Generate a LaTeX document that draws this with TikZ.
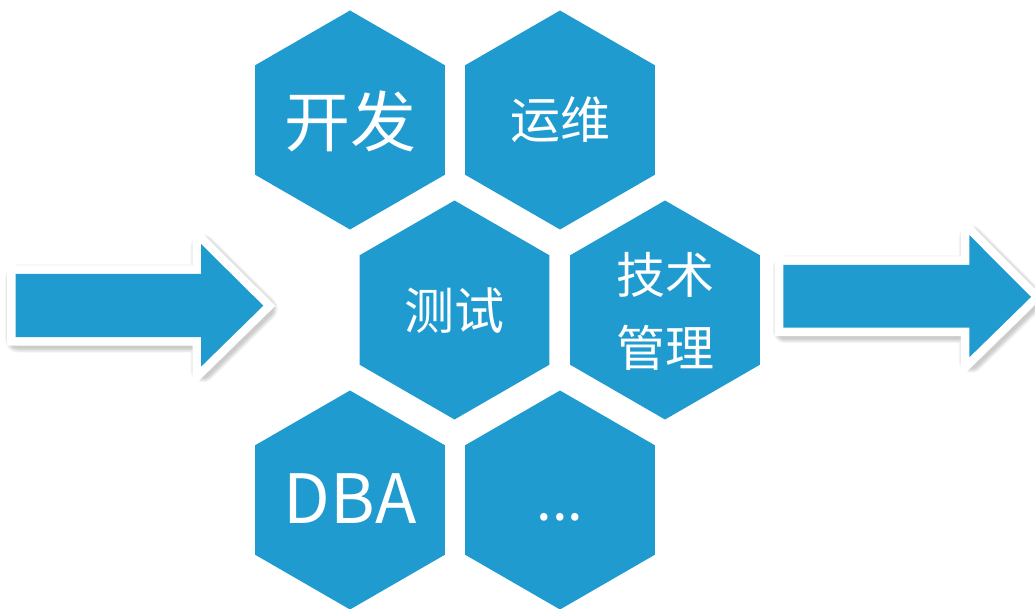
\documentclass[tikz,border=0pt]{standalone}
\usepackage{fontspec}
\setmainfont{Noto Sans CJK SC}
\definecolor{hexblue}{RGB}{32,155,207}
\tikzset{
  hexfill/.style={fill=hexblue},
  lbl/.style={text=white, inner sep=0pt, align=center},
  arrowborder/.style={draw=white, fill=white, line width=17pt, line join=miter},
  arrowshadow/.style={draw=black, fill=black, line width=#1, line join=round, opacity=0.045},
}
\begin{document}
\begin{tikzpicture}[x=1pt,y=-1pt]
\useasboundingbox (0,0) rectangle (1035,609);
% hexagons
\foreach \cx/\cy in {350/120, 560/120, 454.5/310, 665/310, 350/500, 560/500}{
  \fill[hexfill] (\cx,\cy) +(90:109.5) -- +(150:109.5) -- +(210:109.5) -- +(270:109.5) -- +(330:109.5) -- +(30:109.5) -- cycle;
}
% left arrow
\foreach \w in {17pt,19pt,21pt,23pt,25pt}{
  \path[arrowshadow=\w] (17.7,277) -- (203,277) -- (203,247) -- (265.3,308.7) -- (203,369.7) -- (203,340) -- (17.7,340) -- cycle;
}
\path[arrowborder] (15.7,274) -- (201,274) -- (201,244) -- (263.3,305.7) -- (201,366.7) -- (201,337) -- (15.7,337) -- cycle;
\fill[hexfill] (15.7,274) -- (201,274) -- (201,244) -- (263.3,305.7) -- (201,366.7) -- (201,337) -- (15.7,337) -- cycle;
% right arrow
\foreach \w in {17pt,19pt,21pt,23pt,25pt}{
  \path[arrowshadow=\w] (785.3,268) -- (971.3,268) -- (971.3,238) -- (1033,300) -- (971.3,360.3) -- (971.3,330.7) -- (785.3,330.7) -- cycle;
}
\path[arrowborder] (783.3,265) -- (969.3,265) -- (969.3,235) -- (1031,297) -- (969.3,357.3) -- (969.3,327.7) -- (783.3,327.7) -- cycle;
\fill[hexfill] (783.3,265) -- (969.3,265) -- (969.3,235) -- (1031,297) -- (969.3,357.3) -- (969.3,327.7) -- (783.3,327.7) -- cycle;
% labels
\node[lbl, font=\fontsize{66}{70}\selectfont] (kf) at (350,121) {开发};
\node[lbl, font=\fontsize{50}{54}\selectfont] (yw) at (560,120) {运维};
\node[lbl, font=\fontsize{50}{54}\selectfont] (cs) at (454.5,311) {测试};
\node[lbl, font=\fontsize{49}{73}\selectfont] (jsgl) at (665,311) {技术\\管理};
\node[lbl, font=\fontsize{68}{72}\selectfont] (dba) at (350,499) {DBA};
\node[lbl, font=\fontsize{56}{60}\selectfont, anchor=base] (more) at (560,520) {...};
\end{tikzpicture}
\end{document}
